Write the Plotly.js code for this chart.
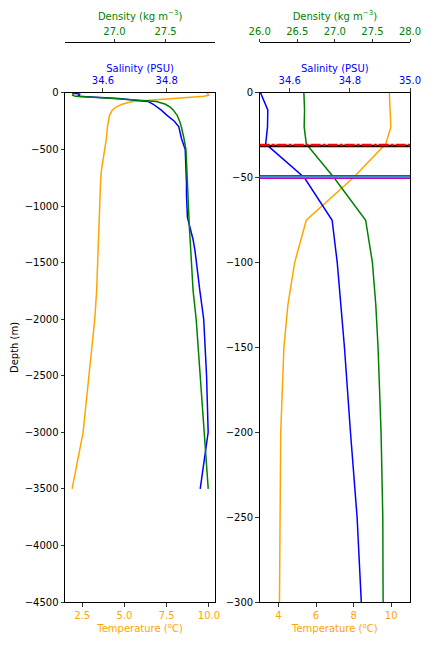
<!DOCTYPE html>
<html>
<head>
<meta charset="utf-8">
<script src="https://cdn.plot.ly/plotly-3.0.1.min.js"></script>
<style>html,body{margin:0;padding:0;background:#fff;}#chart{width:432px;height:648px;}</style>
</head>
<body>
<div id="chart"></div>
<script>
// Profile data (depth in metres, positive down)
const depth = [0,10,20,30,50,75,100,125,150,200,250,300,400,500,600,700,800,900,1000,1100,1200,1300,1400,1500,1750,2000,2500,3000,3500];
const temperature = [9.90,9.93,9.98,9.71,7.98,5.48,4.86,4.50,4.29,4.12,4.06,4.00,3.94,3.84,3.71,3.63,3.59,3.57,3.55,3.53,3.51,3.49,3.47,3.43,3.36,3.25,2.91,2.56,1.91];
const salinity = [34.503,34.527,34.526,34.520,34.649,34.741,34.758,34.771,34.782,34.802,34.824,34.838,34.846,34.858,34.860,34.861,34.862,34.862,34.863,34.865,34.874,34.883,34.889,34.893,34.904,34.916,34.925,34.930,34.905];
const density = [26.588,26.597,26.592,26.620,26.990,27.410,27.500,27.545,27.575,27.615,27.638,27.655,27.680,27.700,27.705,27.709,27.712,27.716,27.720,27.727,27.734,27.741,27.748,27.755,27.770,27.800,27.840,27.885,27.918];

// Reference depth markers (right panel)
const redLineDepth = [30.6];
const blackLineDepth = [31.2];
const magentaLineDepth = [49.6];

// Tick values
const tempTicksLeft = [2.5,5,7.5,10];
const tempTicksRight = [4,6,8,10];

const negDepth = depth.map(d => -d);
const cT = '#FFA500', cS = '#0000FF', cD = '#008000';

const traces = [
  {x: temperature, y: negDepth, xaxis:'x', yaxis:'y', mode:'lines', line:{color:cT,width:1.5}},
  {x: salinity, y: negDepth, xaxis:'x2', yaxis:'y', mode:'lines', line:{color:cS,width:1.5}},
  {x: density, y: negDepth, xaxis:'x3', yaxis:'y', mode:'lines', line:{color:cD,width:1.5}},
  {x: temperature, y: negDepth, xaxis:'x4', yaxis:'y2', mode:'lines', line:{color:cT,width:1.5}},
  {x: salinity, y: negDepth, xaxis:'x5', yaxis:'y2', mode:'lines', line:{color:cS,width:1.5}},
  {x: density, y: negDepth, xaxis:'x6', yaxis:'y2', mode:'lines', line:{color:cD,width:1.5}}
];

const base = {showline:true, linecolor:'black', linewidth:1, ticks:'outside', ticklen:3.5, tickwidth:0.8, tickcolor:'black', showgrid:false, zeroline:false, automargin:false};
const dL = [0, 0.4353], dR = [0.5643, 1];
const yDom = [0, 0.909];
function ax(o){ return Object.assign({}, base, o); }
const tf = c => ({family:'DejaVu Sans', size:10, color:c});

const shapes = [];
blackLineDepth.forEach(d => shapes.push({type:'line', xref:'x4 domain', yref:'y2', x0:0, x1:1, y0:-d, y1:-d, line:{color:'black', width:2.5}, layer:'above'}));
redLineDepth.forEach(d => shapes.push({type:'line', xref:'x4 domain', yref:'y2', x0:0, x1:1, y0:-d, y1:-d, line:{color:'red', width:2.5, dash:'10px,2px,3px,2px'}, layer:'above'}));
magentaLineDepth.forEach(d => {
  shapes.push({type:'line', xref:'x4 domain', yref:'y2', x0:0, x1:1, y0:-d, y1:-d, line:{color:'#C000C0', width:4}, layer:'above'});
  shapes.push({type:'line', xref:'x4 domain', yref:'y2', x0:0, x1:1, y0:-d, y1:-d, line:{color:'#00C0C0', width:1.5}, layer:'above'});
});

const layout = {
  width:432, height:648,
  margin:{l:65, r:22, t:42, b:46, pad:0},
  showlegend:false,
  paper_bgcolor:'white', plot_bgcolor:'white',
  font:{family:'DejaVu Sans', size:10, color:'black'},
  shapes: shapes,
  yaxis: ax({domain:yDom, anchor:'x', range:[-4500,0], tick0:0, dtick:500, mirror:true, tickfont:tf('black'),
    title:{text:'Depth (m)', font:tf('black'), standoff:4}}),
  yaxis2: ax({domain:yDom, anchor:'x4', range:[-300,0], tick0:0, dtick:50, mirror:true, tickfont:tf('black')}),
  xaxis: ax({domain:dL, anchor:'y', side:'bottom', range:[1.49,10.37], tickvals:tempTicksLeft, tickformat:'.1f', tickfont:tf(cT),
    title:{text:'Temperature (<sup>o</sup>C)', font:tf(cT), standoff:5}}),
  xaxis2: ax({overlaying:'x', anchor:'y', side:'top', range:[34.481,34.952], tick0:34.6, dtick:0.2, tickformat:'.1f', tickfont:tf(cS),
    title:{text:'Salinity (PSU)', font:tf(cS), standoff:0}}),
  xaxis3: ax({overlaying:'x', anchor:'free', position:1, side:'top', range:[26.516,27.986], tick0:27, dtick:0.5, tickformat:'.1f', tickfont:tf(cD),
    title:{text:'Density (kg m<sup>−3</sup>)', font:tf(cD), standoff:2}}),
  xaxis4: ax({domain:dR, anchor:'y2', side:'bottom', range:[3,11], tickvals:tempTicksRight, tickfont:tf(cT),
    title:{text:'Temperature (<sup>o</sup>C)', font:tf(cT), standoff:5}}),
  xaxis5: ax({overlaying:'x4', anchor:'y2', side:'top', range:[34.5,35.0], tick0:34.6, dtick:0.2, tickformat:'.1f', tickfont:tf(cS),
    title:{text:'Salinity (PSU)', font:tf(cS), standoff:0}}),
  xaxis6: ax({overlaying:'x4', anchor:'free', position:1, side:'top', range:[26,28], tick0:26, dtick:0.5, tickformat:'.1f', tickfont:tf(cD),
    title:{text:'Density (kg m<sup>−3</sup>)', font:tf(cD), standoff:2}})
};

Plotly.newPlot('chart', traces, layout, {displayModeBar:false, staticPlot:true});
</script>
</body>
</html>
